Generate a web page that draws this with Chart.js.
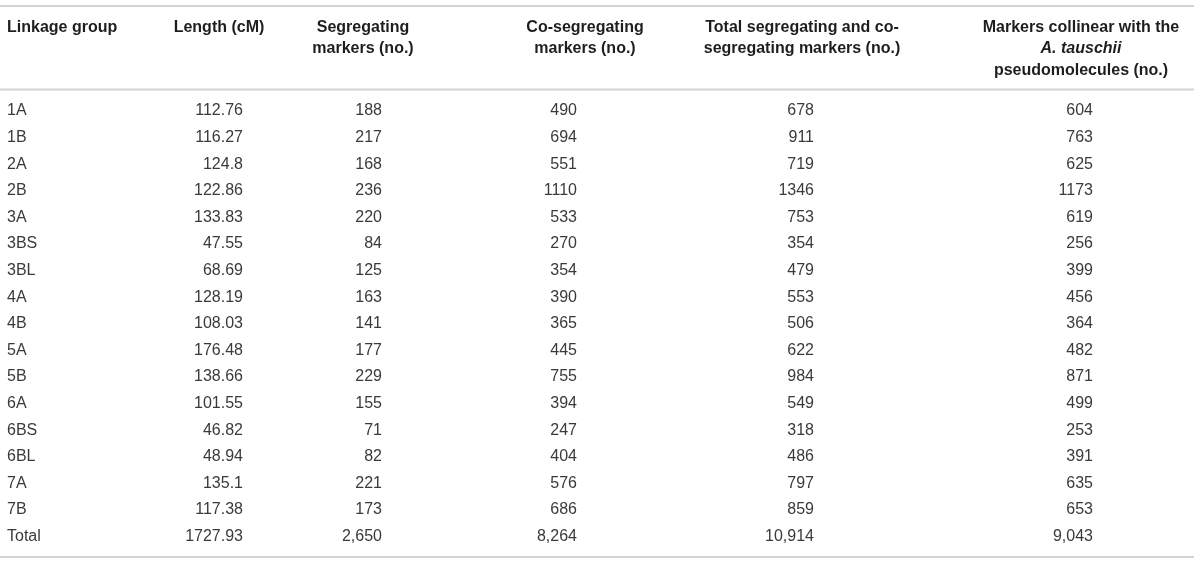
<!DOCTYPE html>
<html>
<head>
<meta charset="utf-8">
<script src="https://cdn.jsdelivr.net/npm/chart.js@4"></script>
<style>
  html, body { margin: 0; padding: 0; background: #fff; }
  #wrap { width: 1200px; height: 564px; }
</style>
</head>
<body>
<div id="wrap"><canvas id="tableChart"></canvas></div>
<script>
// Table data
const linkageGroups = ['1A', '1B', '2A', '2B', '3A', '3BS', '3BL', '4A', '4B', '5A', '5B', '6A', '6BS', '6BL', '7A', '7B', 'Total'];
const lengthCM = [112.76, 116.27, 124.8, 122.86, 133.83, 47.55, 68.69, 128.19, 108.03, 176.48, 138.66, 101.55, 46.82, 48.94, 135.1, 117.38, 1727.93];
const segregating = [188, 217, 168, 236, 220, 84, 125, 163, 141, 177, 229, 155, 71, 82, 221, 173, 2650];
const coSegregating = [490, 694, 551, 1110, 533, 270, 354, 390, 365, 445, 755, 394, 247, 404, 576, 686, 8264];
const totalMarkers = [678, 911, 719, 1346, 753, 354, 479, 553, 506, 622, 984, 549, 318, 486, 797, 859, 10914];
const collinear = [604, 763, 625, 1173, 619, 256, 399, 456, 364, 482, 871, 499, 253, 391, 635, 653, 9043];

// Column headers (one entry per text line, i = italic)
const headers = [
    [{t: 'Linkage group'}],
    [{t: 'Length (cM)'}],
    [{t: 'Segregating'}, {t: 'markers (no.)'}],
    [{t: 'Co-segregating'}, {t: 'markers (no.)'}],
    [{t: 'Total segregating and co-'}, {t: 'segregating markers (no.)'}],
    [{t: 'Markers collinear with the'}, {t: 'A. tauschii', i: true}, {t: 'pseudomolecules (no.)'}]
];

// layout: anchor of each column on the 0..1200 x scale
const colAnchor = [7, 243, 382, 577, 814, 1093];
const headAnchor = [7, 219, 363, 585, 802, 1081];
const FONT = '"Liberation Sans", Arial, Helvetica, sans-serif';

function fmt(v, row, col) {
    if (typeof v === 'string') return v;
    if (linkageGroups[row] === 'Total' && col > 1) return v.toLocaleString('en-US');
    return String(v);
}

const columns = [linkageGroups, lengthCM, segregating, coSegregating, totalMarkers, collinear];
const datasets = columns.map((vals, c) => ({
    label: 'col' + c,
    data: linkageGroups.map(g => ({x: colAnchor[c], y: g})),
    cellText: vals.map((v, r) => fmt(v, r, c)),
    align: c === 0 ? 'left' : 'right',
    pointRadius: 0,
    pointHoverRadius: 0
}));

const tablePlugin = {
    id: 'tablePlugin',
    afterDatasetsDraw(chart) {
        const ctx = chart.ctx;
        const xs = chart.scales.x;
        ctx.save();

        // rules
        ctx.strokeStyle = '#d4d4d4';
        ctx.lineWidth = 2;
        [6, 89.5, 557].forEach(y => {
            ctx.beginPath();
            ctx.moveTo(0, y);
            ctx.lineTo(1194, y);
            ctx.stroke();
        });

        // headers
        ctx.fillStyle = '#1e1e1e';
        ctx.textBaseline = 'middle';
        const lineY = [27.5, 49, 70.5];
        headers.forEach((lines, c) => {
            const x = xs.getPixelForValue(headAnchor[c]);
            ctx.textAlign = c === 0 ? 'left' : 'center';
            lines.forEach((p, li) => {
                ctx.font = (p.i ? 'italic ' : '') + 'bold 16px ' + FONT;
                ctx.fillText(p.t, x, lineY[li]);
            });
        });

        // cells
        ctx.font = '16px ' + FONT;
        ctx.fillStyle = '#3a3a3a';
        chart.data.datasets.forEach((ds, i) => {
            const meta = chart.getDatasetMeta(i);
            ctx.textAlign = ds.align;
            meta.data.forEach((el, r) => {
                ctx.fillText(ds.cellText[r], el.x, el.y);
            });
        });
        ctx.restore();
    }
};

new Chart(document.getElementById('tableChart'), {
    type: 'scatter',
    data: {datasets: datasets},
    options: {
        responsive: true,
        maintainAspectRatio: false,
        animation: false,
        events: [],
        layout: {padding: {top: 97.7, bottom: 14.1, left: 0, right: 0}},
        scales: {
            x: {type: 'linear', min: 0, max: 1200, display: false},
            y: {type: 'category', labels: linkageGroups, offset: true, display: false}
        },
        plugins: {
            legend: {display: false},
            tooltip: {enabled: false}
        }
    },
    plugins: [tablePlugin]
});
</script>
</body>
</html>
